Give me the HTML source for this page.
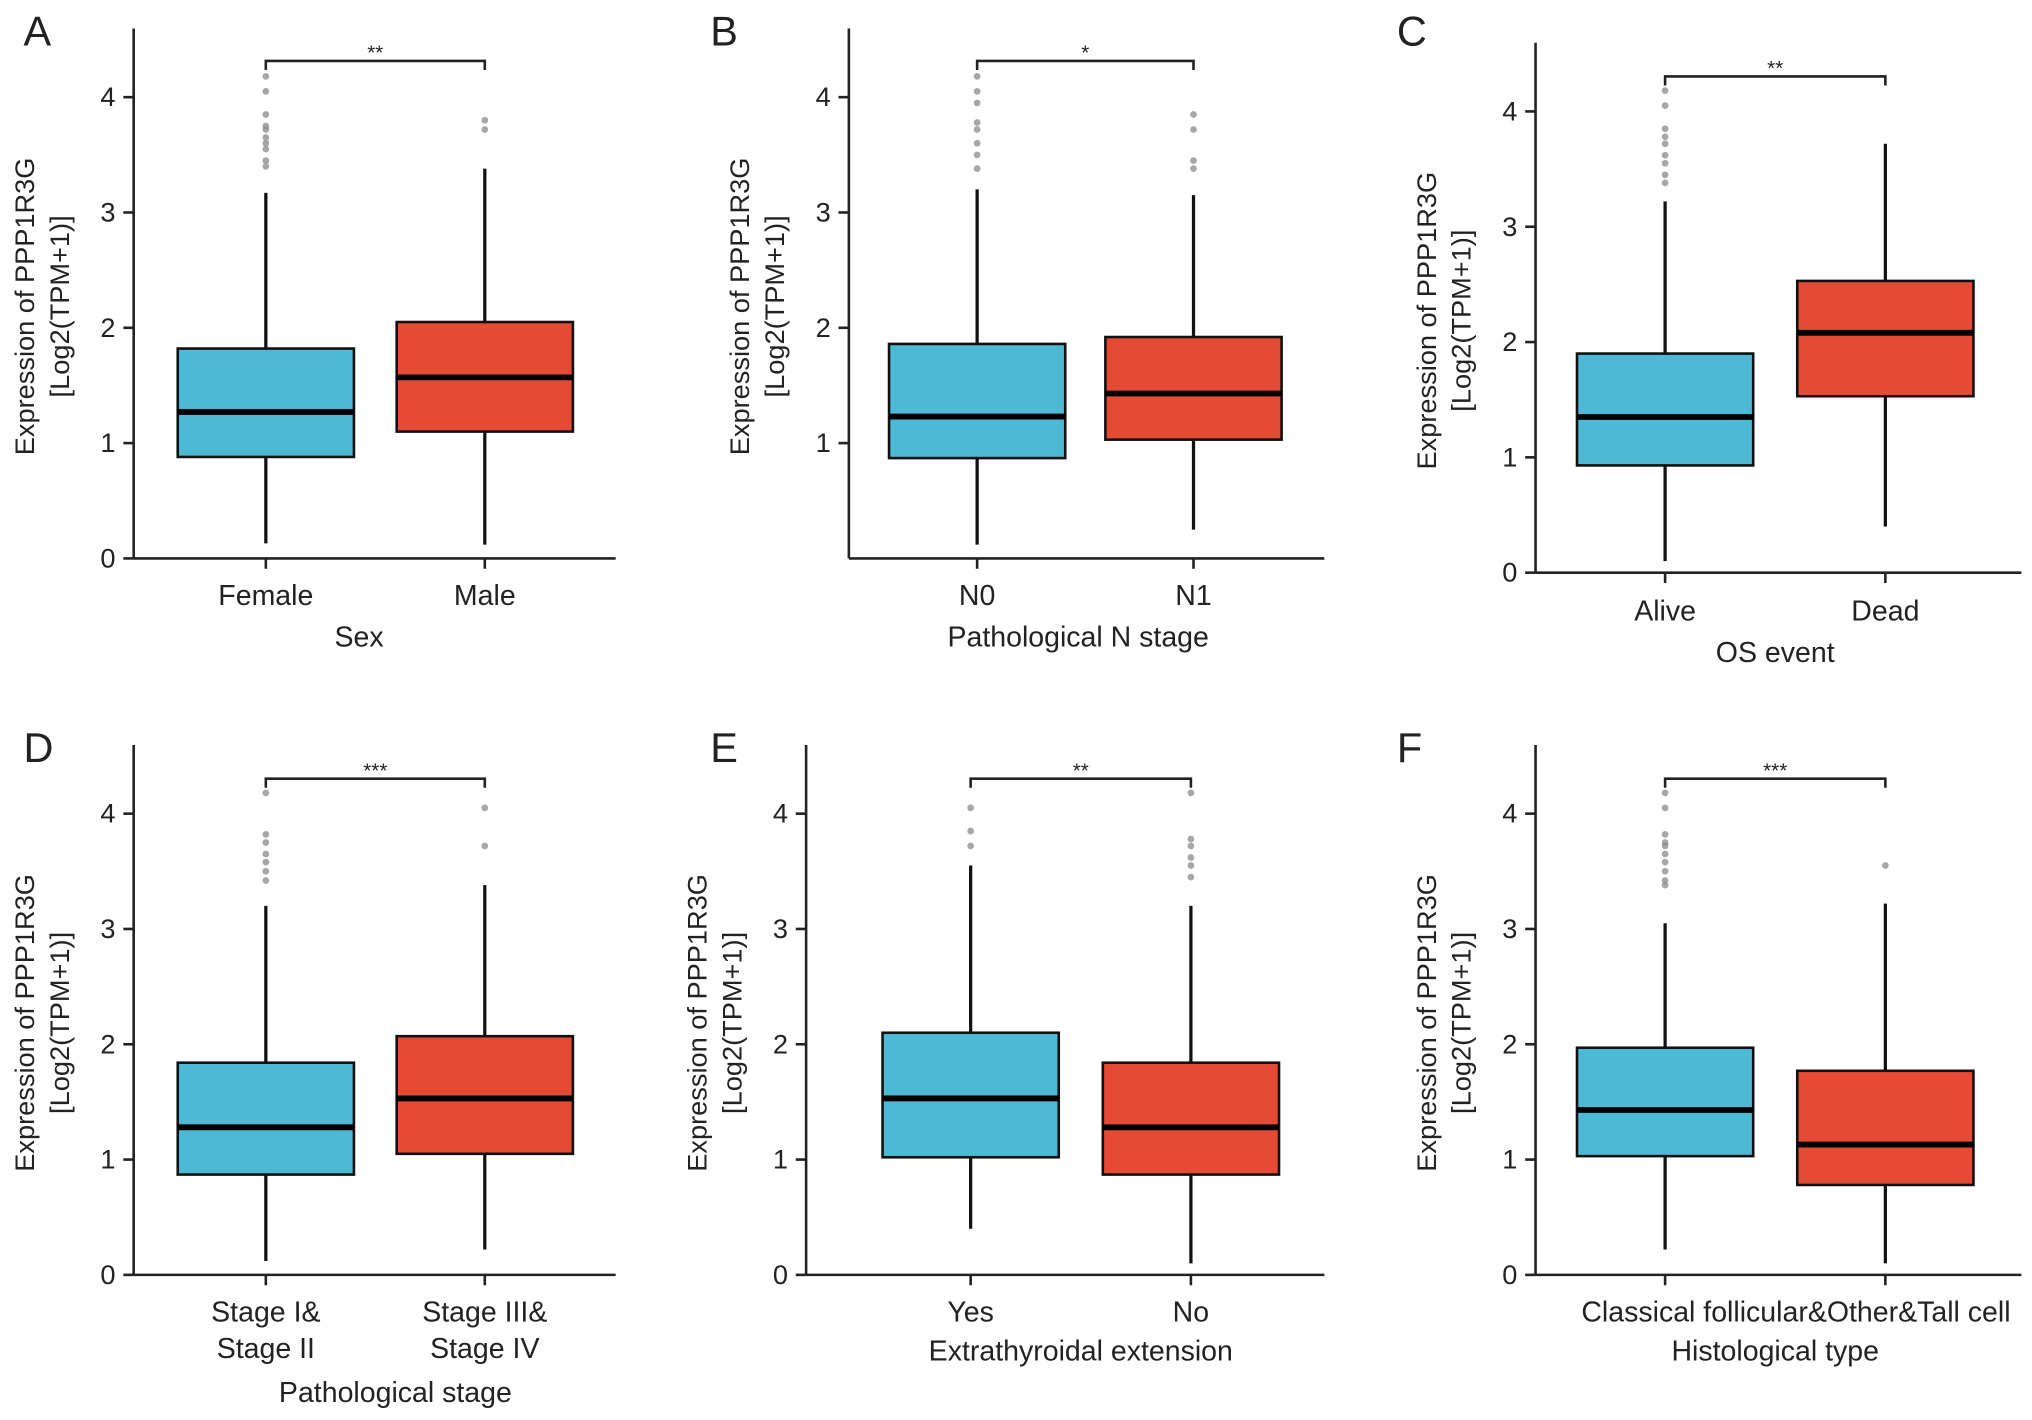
<!DOCTYPE html>
<html><head><meta charset="utf-8"><style>
html,body{margin:0;padding:0;background:#fff;}
svg{display:block;}
text{font-family:"Liberation Sans",Arial,sans-serif;fill:#222;}
</style></head>
<body>
<svg id="fig" width="2032" height="1420" viewBox="0 0 1568 1096" xmlns="http://www.w3.org/2000/svg"></svg>
<script>
// ---- data ----
const panelLetters = ["A","B","C","D","E","F"];
const catsA = [["Female"],["Male"]];
const catsB = [["N0"],["N1"]];
const catsC = [["Alive"],["Dead"]];
const catsD = [["Stage I&","Stage II"],["Stage III&","Stage IV"]];
const catsE = [["Yes"],["No"]];
const catsF = [["Classical follicular&Other&Tall cell"],[""]];
const xTitles = ["Sex","Pathological N stage","OS event","Pathological stage","Extrathyroidal extension","Histological type"];
const sigLabels = ["**","*","**","***","**","***"];
// [low whisker, q1, median, q3, high whisker]
const statsA = [[0.13,0.88,1.27,1.82,3.17],[0.12,1.10,1.57,2.05,3.38]];
const statsB = [[0.12,0.87,1.23,1.86,3.20],[0.25,1.03,1.43,1.92,3.15]];
const statsC = [[0.10,0.93,1.35,1.90,3.22],[0.40,1.53,2.08,2.53,3.72]];
const statsD = [[0.12,0.87,1.28,1.84,3.20],[0.22,1.05,1.53,2.07,3.38]];
const statsE = [[0.40,1.02,1.53,2.10,3.55],[0.10,0.87,1.28,1.84,3.20]];
const statsF = [[0.22,1.03,1.43,1.97,3.05],[0.10,0.78,1.13,1.77,3.22]];
const outA = [[3.40,3.45,3.55,3.60,3.65,3.72,3.75,3.85,4.05,4.18],[3.72,3.80]];
const outB = [[3.38,3.50,3.60,3.72,3.78,3.95,4.05,4.18],[3.38,3.45,3.72,3.85]];
const outC = [[3.38,3.45,3.55,3.62,3.72,3.78,3.85,4.05,4.18],[]];
const outD = [[3.42,3.50,3.58,3.65,3.75,3.82,4.18],[3.72,4.05]];
const outE = [[3.72,3.85,4.05],[3.45,3.55,3.62,3.72,3.78,4.18]];
const outF = [[3.38,3.42,3.50,3.58,3.65,3.72,3.75,3.82,4.05,4.18],[3.55]];
const tickValsFull = [0,1,2,3,4];
const tickValsNoZero = [1,2,3,4];

// ---- layout (not data) ----
const layouts = [
 {ax:103,top:22,bot:431,right:475,cx:[205,374],br:47,ticks:tickValsFull,catY:459,titleY:491,titleX:277,lx:18,ly:35},
 {ax:655,top:22,bot:431,right:1022,cx:[754,921],br:47,ticks:tickValsNoZero,catY:459,titleY:491,titleX:832,lx:548,ly:35},
 {ax:1185,top:33,bot:442,right:1560,cx:[1285,1455],br:59,ticks:tickValsFull,catY:471,titleY:503,titleX:1370,lx:1078,ly:35},
 {ax:103,top:575,bot:984,right:475,cx:[205,374],br:601,ticks:tickValsFull,catY:1012,titleY:1074,titleX:305,lx:18,ly:588},
 {ax:622,top:575,bot:984,right:1022,cx:[749,919],br:601,ticks:tickValsFull,catY:1012,titleY:1042,titleX:834,lx:548,ly:588},
 {ax:1185,top:575,bot:984,right:1560,cx:[1285,1455],br:601,ticks:tickValsFull,catY:1012,titleY:1042,titleX:1370,lx:1078,ly:588}
];
const allCats=[catsA,catsB,catsC,catsD,catsE,catsF];
const allStats=[statsA,statsB,statsC,statsD,statsE,statsF];
const allOut=[outA,outB,outC,outD,outE,outF];
const colors=["#4DB9D5","#E54B34"];
const NS="http://www.w3.org/2000/svg";
const svg=document.getElementById('fig');
function mk(tag,attrs,parent){const e=document.createElementNS(NS,tag);for(const k in attrs)e.setAttribute(k,attrs[k]);(parent||svg).appendChild(e);return e;}

layouts.forEach((L,p)=>{
  const g=mk('g',{});
  
  
  const y=v=>L.bot-v*89;
  const lt=mk('text',{x:L.lx,y:L.ly,'font-size':32},g);lt.textContent=panelLetters[p];
  
  
  const ya=mk('line',{x1:L.ax,y1:L.top,x2:L.ax,y2:L.bot,stroke:'#222','stroke-width':2},g);
  
  
  const xa=mk('line',{x1:L.ax,y1:L.bot,x2:L.right,y2:L.bot,stroke:'#222','stroke-width':2},g);
  
  
  L.ticks.forEach(t=>{
    mk('line',{x1:L.ax-8,y1:y(t),x2:L.ax,y2:y(t),stroke:'#222','stroke-width':2},g);
    const tt=mk('text',{x:L.ax-14,y:y(t)+7,'font-size':21,'text-anchor':'end'},g);tt.textContent=t;
    
    
  });
  const yt=mk('text',{transform:`translate(${L.ax-77},${(L.top+L.bot)/2+10}) rotate(-90)`,'font-size':21,'text-anchor':'middle'},g);
  
  
  const s1=mk('tspan',{x:0,dy:0},yt);s1.textContent='Expression of PPP1R3G';
  const s2=mk('tspan',{x:0,dy:27},yt);s2.textContent='[Log2(TPM+1)]';
  allStats[p].forEach((s,i)=>{
    const cx=L.cx[i],hw=68;
    const bg=mk('g',{},g);
    
    
    mk('line',{x1:cx,y1:y(s[0]),x2:cx,y2:y(s[4]),stroke:'#111','stroke-width':2.5},bg);
    mk('rect',{x:cx-hw,y:y(s[3]),width:2*hw,height:y(s[1])-y(s[3]),fill:colors[i],stroke:'#111','stroke-width':2},bg);
    mk('line',{x1:cx-hw,y1:y(s[2]),x2:cx+hw,y2:y(s[2]),stroke:'#000','stroke-width':4.5},bg);
    allOut[p][i].forEach(o=>{
      const c=mk('circle',{cx:cx,cy:y(o),r:2.6,fill:'#8a8a8a','fill-opacity':0.75},bg);
      
      
    });
    mk('line',{x1:cx,y1:L.bot,x2:cx,y2:L.bot+8,stroke:'#222','stroke-width':2},g);
    const lines=allCats[p][i];
    lines.forEach((ln,k)=>{
      const anchorX = (p===5)? (L.cx[0]+L.cx[1])/2+16 : cx;
      if(!ln) return;
      const ct=mk('text',{x:anchorX,y:L.catY+8+k*28,'font-size':22,'text-anchor':'middle'},g);ct.textContent=ln;
      
      
    });
  });
  const xt=mk('text',{x:L.titleX,y:L.titleY+8,'font-size':22,'text-anchor':'middle'},g);xt.textContent=xTitles[p];
  
  
  const br=mk('path',{d:`M${L.cx[0]},${L.br+7}V${L.br}H${L.cx[1]}V${L.br+7}`,fill:'none',stroke:'#222','stroke-width':2},g);
  
  
  const st=mk('text',{x:(L.cx[0]+L.cx[1])/2,y:L.br-1,'font-size':16,'text-anchor':'middle'},g);st.textContent=sigLabels[p];
  
  
});
</script>
</body></html>
